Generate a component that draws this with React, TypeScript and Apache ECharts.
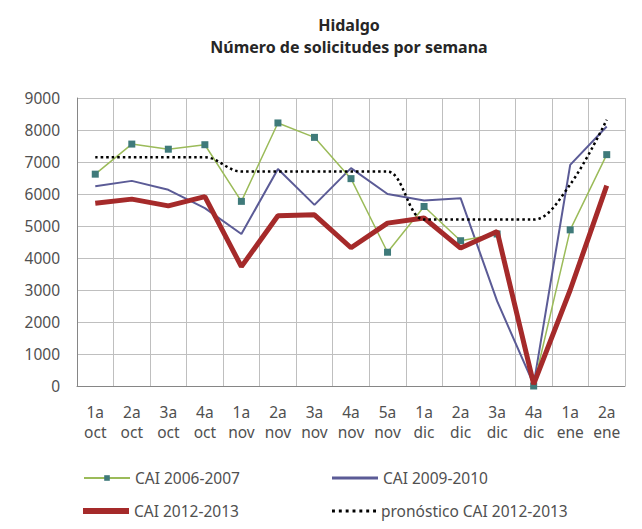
import React, { useEffect, useRef } from "react";
import * as echarts from "echarts";

const categories = [
  "1a\noct", "2a\noct", "3a\noct", "4a\noct",
  "1a\nnov", "2a\nnov", "3a\nnov", "4a\nnov", "5a\nnov",
  "1a\ndic", "2a\ndic", "3a\ndic", "4a\ndic",
  "1a\nene", "2a\nene",
];

const cai2006 = [6620, 7560, 7400, 7540, 5770, 8220, 7770, 6480, 4180, 5610, 4540, 4750, 0, 4880, 7230];
const cai2009 = [6240, 6410, 6130, 5560, 4750, 6780, 5660, 6810, 6000, 5800, 5870, 2650, 50, 6910, 8110];
const cai2012 = [5710, 5840, 5630, 5920, 3730, 5320, 5350, 4320, 5090, 5250, 4310, 4830, 60, 3000, 6260];
const pronostico = [7150, 7150, 7150, 7150, 6700, 6700, 6700, 6700, 6700, 5200, 5200, 5200, 5200, 6300, 8320];

const yTicks = { min: 0, max: 9000, interval: 1000 };

const FONT = "Noto Sans";
const DOTS = "path://M0,0h3v3h-3z M7,0h3v3h-3z M14,0h3v3h-3z M21,0h3v3h-3z M28,0h3v3h-3z M35,0h3v3h-3z M42,0h3v3h-3z";

export default function App() {
  const ref = useRef<HTMLDivElement>(null);
  useEffect(() => {
    if (!ref.current) return;
    const chart = echarts.init(ref.current, undefined, { renderer: "svg" });
    const legendBase = {
      itemWidth: 46,
      textStyle: { fontFamily: FONT, fontSize: 15.5, color: "#505050" },
      orient: "horizontal" as const,
      padding: 0,
    };
    chart.setOption({
      animation: false,
      backgroundColor: "#ffffff",
      title: {
        text: "Hidalgo\nNúmero de solicitudes por semana",
        left: 349,
        textAlign: "center",
        top: 14,
        padding: 0,
        textStyle: { fontFamily: FONT, fontSize: 16, fontWeight: "bold", color: "#262626", lineHeight: 22 },
      },
      legend: [
        { ...legendBase, data: ["CAI 2006-2007"], itemHeight: 7, left: 83, top: 470 },
        { ...legendBase, data: [{ name: "CAI 2009-2010", icon: "rect" }], itemHeight: 3, left: 332, top: 470 },
        { ...legendBase, data: [{ name: "CAI 2012-2013", icon: "rect" }], itemHeight: 6, left: 83, top: 503 },
        { ...legendBase, data: [{ name: "pronóstico CAI 2012-2013", icon: DOTS }], itemHeight: 3, itemWidth: 44, left: 332, top: 503 },
      ],
      grid: { left: 77, right: 17, top: 98, bottom: 143, containLabel: false },
      xAxis: {
        type: "category",
        data: categories,
        boundaryGap: true,
        axisLine: { lineStyle: { color: "#868686", width: 1 } },
        axisTick: { show: false },
        splitLine: { show: true, lineStyle: { color: "#bfbfbf", width: 1 } },
        axisLabel: { fontFamily: FONT, fontSize: 15.5, color: "#505050", lineHeight: 20, margin: 16, interval: 0 },
      },
      yAxis: {
        type: "value",
        ...yTicks,
        axisLine: { show: true, lineStyle: { color: "#868686" } },
        axisTick: { show: false },
        splitLine: { lineStyle: { color: "#bfbfbf", width: 1 } },
        axisLabel: { fontFamily: FONT, fontSize: 15.5, color: "#505050", margin: 17, formatter: (v: number) => String(v) },
      },
      series: [
        {
          name: "CAI 2006-2007",
          type: "line",
          data: cai2006,
          symbol: "rect",
          symbolSize: 7,
          itemStyle: { color: "#3f7a7a" },
          lineStyle: { color: "#9bbb59", width: 1.5 },
          z: 3,
        },
        {
          name: "CAI 2009-2010",
          type: "line",
          data: cai2009,
          symbol: "none",
          itemStyle: { color: "#5b5b96" },
          lineStyle: { color: "#5b5b96", width: 2 },
          z: 2,
        },
        {
          name: "CAI 2012-2013",
          type: "line",
          data: cai2012,
          symbol: "none",
          itemStyle: { color: "#a52a2a" },
          lineStyle: { color: "#a52a2a", width: 5 },
          z: 4,
        },
        {
          name: "pronóstico CAI 2012-2013",
          type: "line",
          data: pronostico,
          symbol: "none",
          smooth: 0.35,
          itemStyle: { color: "#000000" },
          lineStyle: { color: "#000000", width: 2.5, type: [2.5, 3] },
          z: 5,
        },
      ],
    });
    return () => chart.dispose();
  }, []);
  return <div ref={ref} style={{ width: 642, height: 529, marginLeft: -8, marginTop: -8 }} />;
}
